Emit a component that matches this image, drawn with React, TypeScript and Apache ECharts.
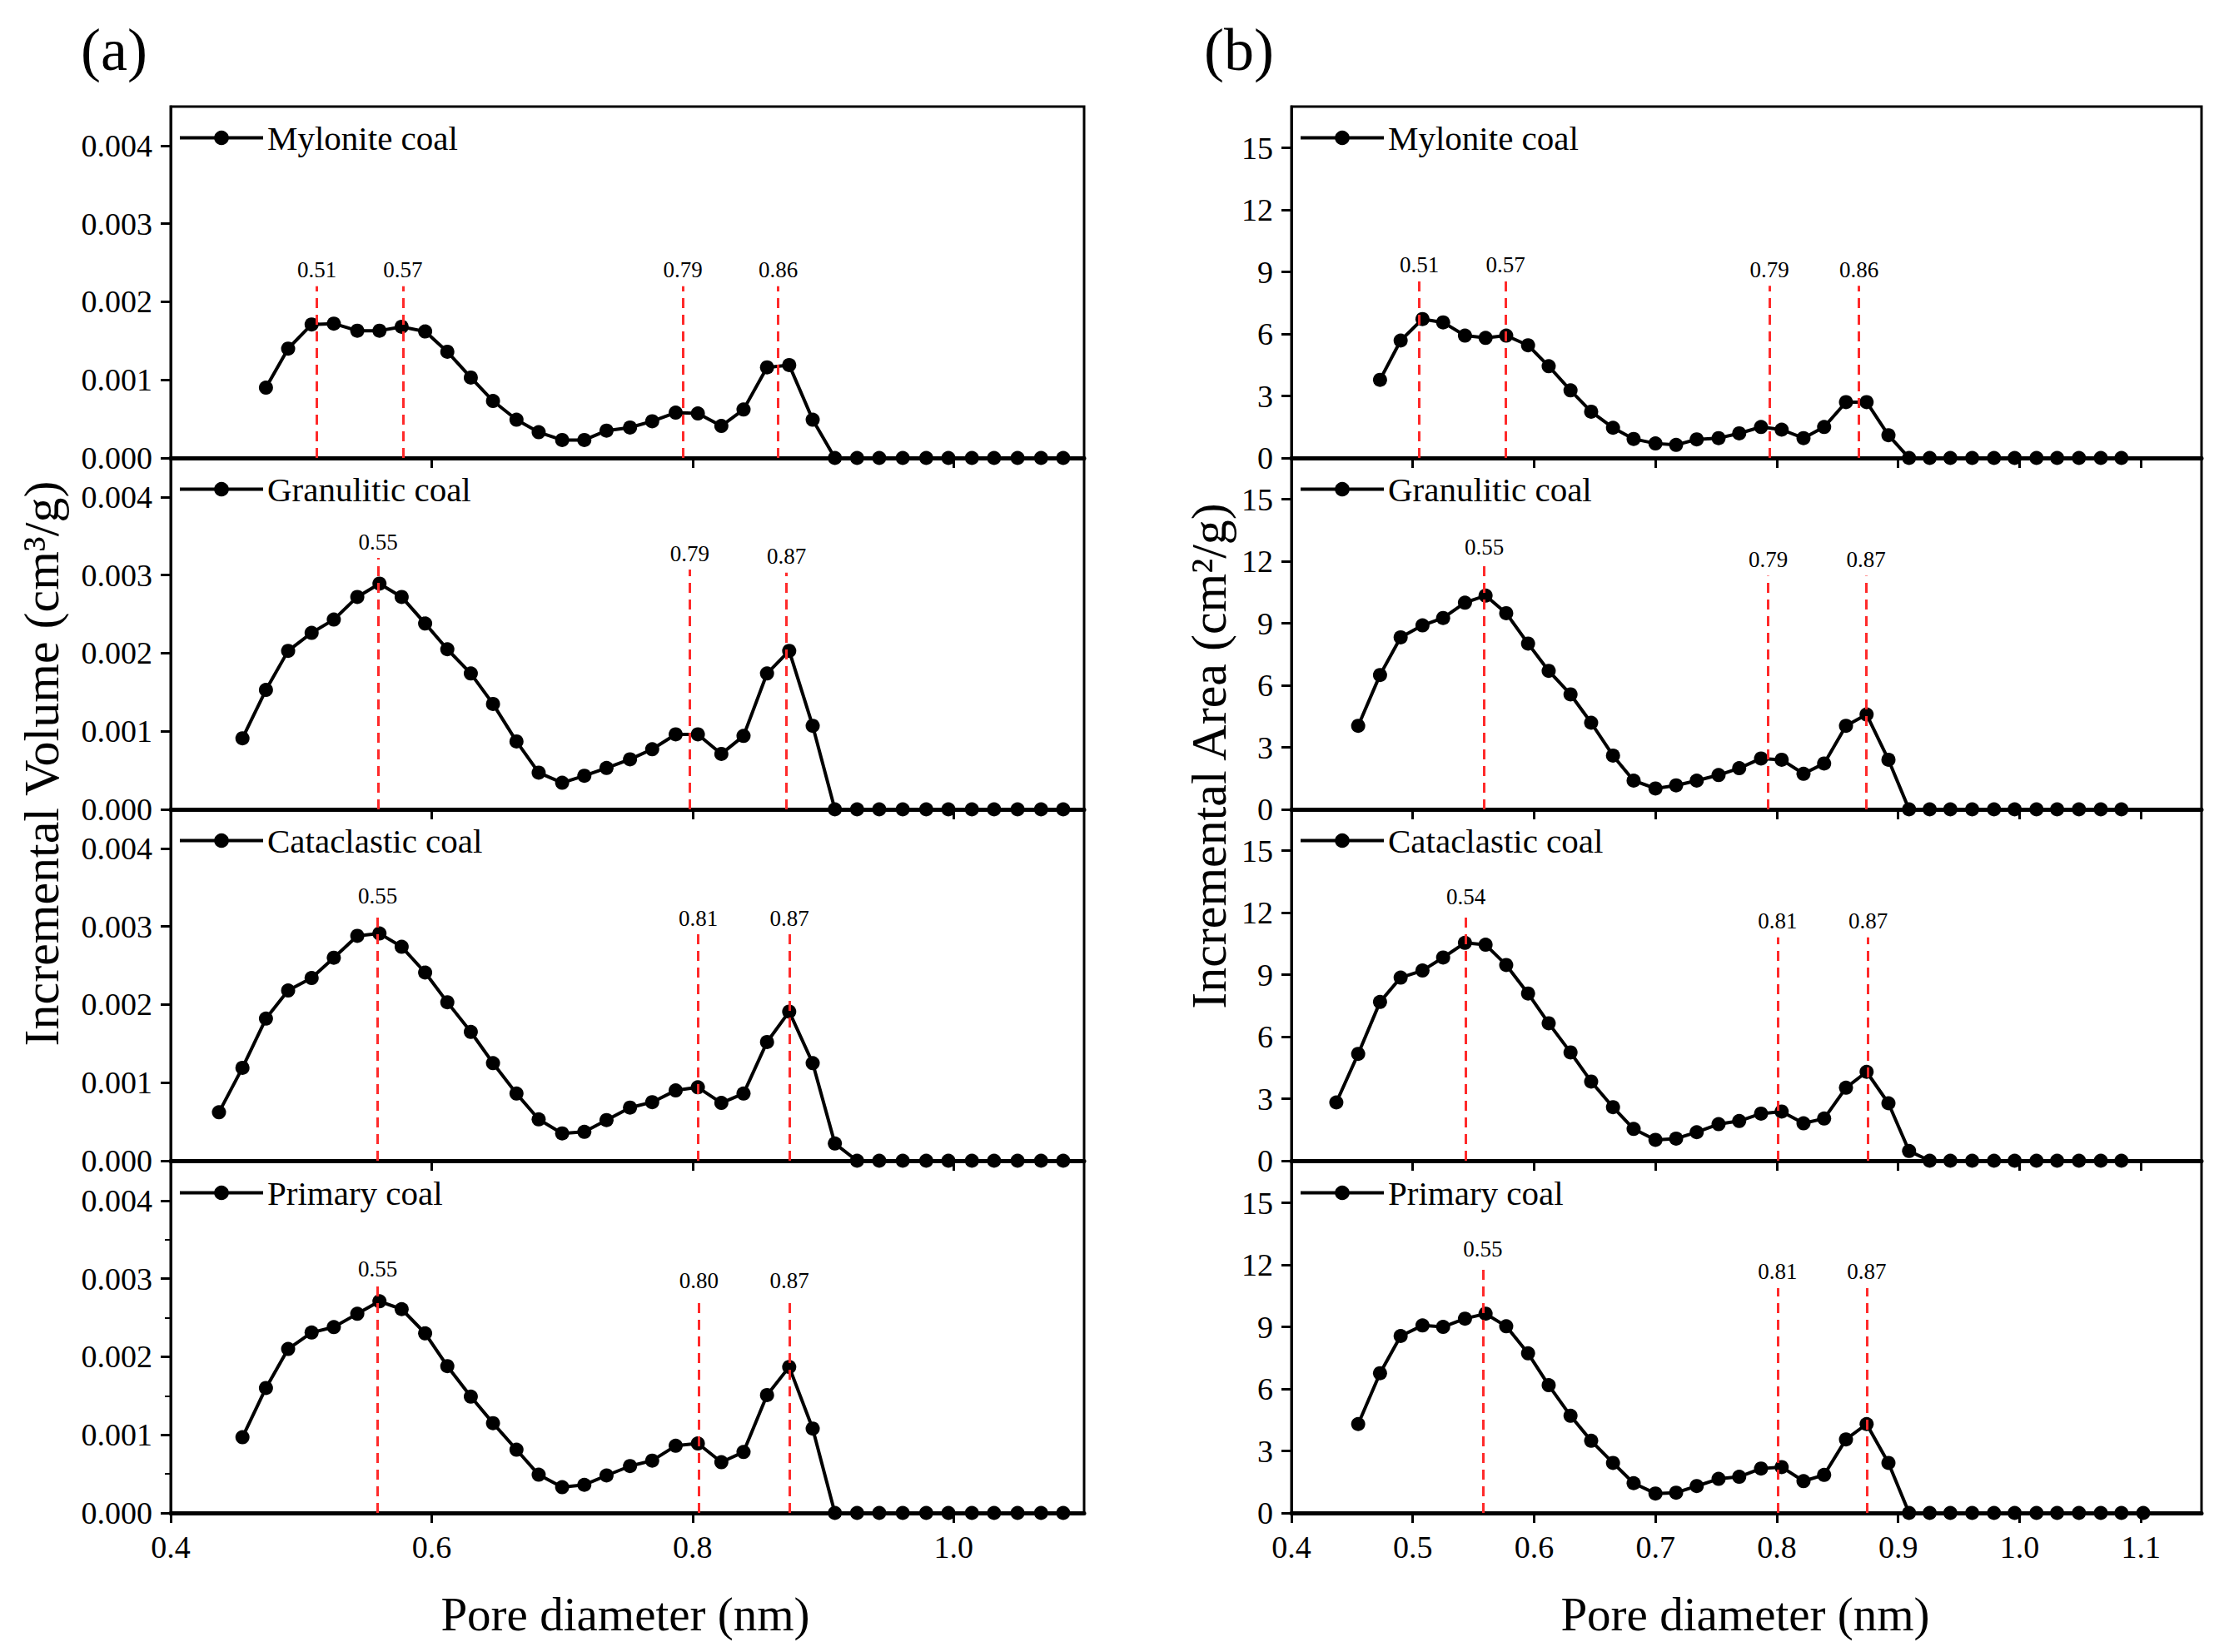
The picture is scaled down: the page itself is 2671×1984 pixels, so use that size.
import { useEffect, useRef } from 'react';
import * as echarts from 'echarts';

// pore diameters (nm) of the DFT bins
const poreDiameter = [
  0.437, 0.455, 0.473, 0.490, 0.508, 0.525, 0.543, 0.560, 0.577, 0.595,
  0.612, 0.630, 0.647, 0.665, 0.682, 0.700, 0.717, 0.734, 0.752, 0.769,
  0.787, 0.804, 0.822, 0.839, 0.857, 0.874, 0.892, 0.909, 0.926, 0.943,
  0.961, 0.979, 0.996, 1.014, 1.031, 1.049, 1.067, 1.084, 1.102,
];

// incremental volume (cm3/g)
const mylVolume = [
  0.00090, 0.00140, 0.00171, 0.00172, 0.00163, 0.00163, 0.00168, 0.00162, 0.00136, 0.00103,
  0.00073, 0.00049, 0.00033, 0.00023, 0.00023, 0.00035, 0.00039, 0.00047, 0.00058, 0.00057,
  0.00041, 0.00062, 0.00116, 0.00119, 0.00049, 0, 0, 0, 0, 0, 0, 0, 0, 0, 0, 0,
];
const graVolume = [
  0.00091, 0.00153, 0.00203, 0.00226, 0.00243, 0.00272, 0.00289, 0.00272, 0.00238, 0.00205,
  0.00174, 0.00135, 0.00087, 0.00047, 0.00034, 0.00043, 0.00053, 0.00064, 0.00077, 0.00096,
  0.00096, 0.00071, 0.00094, 0.00174, 0.00203, 0.00107, 0, 0, 0, 0, 0, 0, 0, 0, 0, 0, 0,
];
const catVolume = [
  0.00062, 0.00119, 0.00182, 0.00218, 0.00234, 0.00260, 0.00288, 0.00291, 0.00274, 0.00241,
  0.00203, 0.00165, 0.00125, 0.00086, 0.00053, 0.00035, 0.00037, 0.00052, 0.00068, 0.00075,
  0.00090, 0.00094, 0.00074, 0.00086, 0.00152, 0.00191, 0.00125, 0.00022, 0, 0, 0, 0, 0, 0, 0, 0, 0, 0,
];
const priVolume = [
  0.00097, 0.00160, 0.00210, 0.00231, 0.00238, 0.00255, 0.00271, 0.00261, 0.00230, 0.00188,
  0.00149, 0.00115, 0.00081, 0.00049, 0.00033, 0.00036, 0.00048, 0.00060, 0.00067, 0.00086,
  0.00089, 0.00065, 0.00078, 0.00151, 0.00187, 0.00108, 0, 0, 0, 0, 0, 0, 0, 0, 0, 0, 0,
];

// incremental area (cm2/g)
const mylArea = [
  3.78, 5.68, 6.72, 6.56, 5.92, 5.81, 5.92, 5.45, 4.44, 3.27, 2.24, 1.46, 0.92, 0.70, 0.63,
  0.90, 0.96, 1.19, 1.50, 1.37, 0.96, 1.50, 2.70, 2.70, 1.10, 0, 0, 0, 0, 0, 0, 0, 0, 0, 0, 0,
];
const graArea = [
  4.04, 6.50, 8.32, 8.90, 9.26, 10.0, 10.34, 9.49, 8.02, 6.70, 5.56, 4.19, 2.60, 1.39, 1.01,
  1.16, 1.39, 1.66, 1.99, 2.46, 2.40, 1.72, 2.22, 4.04, 4.59, 2.40, 0, 0, 0, 0, 0, 0, 0, 0, 0, 0, 0,
];
const catArea = [
  2.82, 5.17, 7.68, 8.86, 9.20, 9.83, 10.54, 10.45, 9.47, 8.09, 6.65, 5.24, 3.83, 2.59, 1.54,
  1.01, 1.07, 1.38, 1.77, 1.92, 2.28, 2.38, 1.81, 2.04, 3.53, 4.30, 2.78, 0.47, 0, 0, 0, 0, 0, 0, 0, 0, 0, 0,
];
const priArea = [
  4.30, 6.76, 8.56, 9.07, 9.00, 9.40, 9.64, 9.03, 7.72, 6.18, 4.70, 3.49, 2.42, 1.44, 0.94,
  0.98, 1.30, 1.65, 1.75, 2.15, 2.22, 1.54, 1.84, 3.56, 4.30, 2.42, 0, 0, 0, 0, 0, 0, 0, 0, 0, 0, 0, 0,
];

// peak marks: label, x position, top of dashed line
const mylVolPeaks = [
  { label: '0.51', x: 0.512, top: 0.0022 },
  { label: '0.57', x: 0.578, top: 0.0022 },
  { label: '0.79', x: 0.7925, top: 0.0022 },
  { label: '0.86', x: 0.8656, top: 0.0022 },
];
const graVolPeaks = [
  { label: '0.55', x: 0.559, top: 0.00322 },
  { label: '0.79', x: 0.7978, top: 0.00307 },
  { label: '0.87', x: 0.872, top: 0.00303 },
];
const catVolPeaks = [
  { label: '0.55', x: 0.5586, top: 0.00318 },
  { label: '0.81', x: 0.8043, top: 0.0029 },
  { label: '0.87', x: 0.8742, top: 0.0029 },
];
const priVolPeaks = [
  { label: '0.55', x: 0.5586, top: 0.00292 },
  { label: '0.80', x: 0.8048, top: 0.00277 },
  { label: '0.87', x: 0.8742, top: 0.00277 },
];
const mylAreaPeaks = [
  { label: '0.51', x: 0.5054, top: 8.57 },
  { label: '0.57', x: 0.5765, top: 8.57 },
  { label: '0.79', x: 0.794, top: 8.33 },
  { label: '0.86', x: 0.8677, top: 8.33 },
];
const graAreaPeaks = [
  { label: '0.55', x: 0.559, top: 11.9 },
  { label: '0.79', x: 0.793, top: 11.3 },
  { label: '0.87', x: 0.8735, top: 11.3 },
];
const catAreaPeaks = [
  { label: '0.54', x: 0.5439, top: 11.98 },
  { label: '0.81', x: 0.8007, top: 10.81 },
  { label: '0.87', x: 0.8752, top: 10.81 },
];
const priAreaPeaks = [
  { label: '0.55', x: 0.5578, top: 12.0 },
  { label: '0.81', x: 0.8007, top: 10.88 },
  { label: '0.87', x: 0.8741, top: 10.88 },
];

const xTicksLeft = [0.4, 0.6, 0.8, 1.0];
const xTicksRight = [0.4, 0.5, 0.6, 0.7, 0.8, 0.9, 1.0, 1.1];
const yTicksLeft = [0, 0.001, 0.002, 0.003, 0.004];
const yTicksRight = [0, 3, 6, 9, 12, 15];

const FONT = 'Liberation Serif';

const colLeft = [205, 1551];
const colWidth = [1097, 1093];
const rowTop = [128, 550, 972, 1395];
const rowHeight = 422;

// first bin index of each sample in poreDiameter
const toPairs = (start: number, values: number[]) =>
  values.map((v, k) => [poreDiameter[start + k], v]);

const panels = [
  { col: 0, row: 0, name: 'Mylonite coal', data: toPairs(2, mylVolume), peaks: mylVolPeaks },
  { col: 0, row: 1, name: 'Granulitic coal', data: toPairs(1, graVolume), peaks: graVolPeaks },
  { col: 0, row: 2, name: 'Cataclastic coal', data: toPairs(0, catVolume), peaks: catVolPeaks },
  { col: 0, row: 3, name: 'Primary coal', data: toPairs(1, priVolume), peaks: priVolPeaks },
  { col: 1, row: 0, name: 'Mylonite coal', data: toPairs(2, mylArea), peaks: mylAreaPeaks },
  { col: 1, row: 1, name: 'Granulitic coal', data: toPairs(1, graArea), peaks: graAreaPeaks },
  { col: 1, row: 2, name: 'Cataclastic coal', data: toPairs(0, catArea), peaks: catAreaPeaks },
  { col: 1, row: 3, name: 'Primary coal', data: toPairs(1, priArea), peaks: priAreaPeaks },
];

const App = () => {
  const chartRef = useRef<HTMLDivElement>(null);

  useEffect(() => {
    if (!chartRef.current) return;
    const chart = echarts.init(chartRef.current, undefined, { renderer: 'svg' });

    const option = {
      animation: false,
      backgroundColor: '#fff',
      textStyle: { fontFamily: FONT },
      grid: panels.map((p) => ({
        left: colLeft[p.col],
        width: colWidth[p.col],
        top: rowTop[p.row],
        height: rowHeight,
        show: true,
        borderColor: '#000',
        borderWidth: 3,
      })),
      xAxis: panels.map((p, i) => ({
        type: 'value',
        gridIndex: i,
        min: 0.4,
        max: p.col ? 1.15 : 1.1,
        interval: p.col ? 0.1 : 0.2,
        axisLine: { show: true, onZero: false, lineStyle: { color: '#000', width: 5 } },
        axisTick: {
          show: true,
          length: 12,
          customValues: p.col ? xTicksRight : xTicksLeft,
          lineStyle: { color: '#000', width: 3 },
        },
        axisLabel: {
          show: p.row === 3,
          customValues: p.col ? xTicksRight : xTicksLeft,
          formatter: (v: number) => v.toFixed(1),
          fontSize: 38,
          fontFamily: FONT,
          color: '#000',
          margin: 22,
        },
        splitLine: { show: false },
      })),
      yAxis: panels.map((p, i) => ({
        type: 'value',
        gridIndex: i,
        min: 0,
        max: p.col ? 17 : 0.0045,
        interval: p.col ? 3 : 0.001,
        axisLine: { show: true, lineStyle: { color: '#000', width: 3 } },
        axisTick: {
          show: true,
          length: 12,
          customValues: p.col ? yTicksRight : yTicksLeft,
          lineStyle: { color: '#000', width: 3 },
        },
        minorTick: {
          show: p.col === 0 && p.row === 3,
          splitNumber: 2,
          length: 7,
          lineStyle: { color: '#000', width: 2 },
        },
        axisLabel: {
          customValues: p.col ? yTicksRight : yTicksLeft,
          formatter: (v: number) => (p.col ? String(v) : v.toFixed(3)),
          fontSize: 38,
          fontFamily: FONT,
          color: '#000',
          margin: 22,
        },
        splitLine: { show: false },
      })),
      legend: panels.map((p) => ({
        data: [p.name],
        left: colLeft[p.col] + 4,
        top: rowTop[p.row] + 12,
        itemWidth: 100,
        itemHeight: 22,
        selectedMode: false,
        lineStyle: { width: 4, color: '#000' },
        itemStyle: { color: '#000' },
        textStyle: { fontSize: 41, fontFamily: FONT, color: '#000' },
      })),
      series: panels.map((p, i) => ({
        type: 'line',
        name: p.name,
        xAxisIndex: i,
        yAxisIndex: i,
        data: p.data,
        symbol: 'circle',
        symbolSize: 17,
        itemStyle: { color: '#000' },
        lineStyle: { color: '#000', width: 4 },
        markLine: {
          silent: true,
          symbol: ['none', 'none'],
          lineStyle: { color: '#ff2a2a', type: [12, 8], width: 3 },
          label: {
            show: true,
            position: 'end',
            distance: 6,
            fontSize: 27,
            fontFamily: FONT,
            color: '#000',
          },
          data: p.peaks.map((k) => [
            { coord: [k.x, 0], name: k.label, label: { formatter: k.label } },
            { coord: [k.x, k.top] },
          ]),
        },
      })),
      graphic: [
        {
          type: 'text',
          x: 137,
          y: 60,
          style: { text: '(a)', font: `72px ${FONT}`, fill: '#000', align: 'center', verticalAlign: 'middle' },
        },
        {
          type: 'text',
          x: 1488,
          y: 60,
          style: { text: '(b)', font: `72px ${FONT}`, fill: '#000', align: 'center', verticalAlign: 'middle' },
        },
        {
          type: 'text',
          x: 50,
          y: 917,
          rotation: Math.PI / 2,
          style: {
            text: 'Incremental Volume (cm³/g)',
            font: `60px ${FONT}`,
            fill: '#000',
            align: 'center',
            verticalAlign: 'middle',
          },
        },
        {
          type: 'text',
          x: 1452,
          y: 908,
          rotation: Math.PI / 2,
          style: {
            text: 'Incremental Area (cm²/g)',
            font: `60px ${FONT}`,
            fill: '#000',
            align: 'center',
            verticalAlign: 'middle',
          },
        },
        {
          type: 'text',
          x: 751,
          y: 1938,
          style: { text: 'Pore diameter (nm)', font: `57px ${FONT}`, fill: '#000', align: 'center', verticalAlign: 'middle' },
        },
        {
          type: 'text',
          x: 2096,
          y: 1938,
          style: { text: 'Pore diameter (nm)', font: `57px ${FONT}`, fill: '#000', align: 'center', verticalAlign: 'middle' },
        },
      ],
    };

    chart.setOption(option);

    const handleResize = () => chart.resize();
    window.addEventListener('resize', handleResize);

    return () => {
      window.removeEventListener('resize', handleResize);
      chart.dispose();
    };
  }, []);

  return (
    <div
      ref={chartRef}
      style={{ position: 'absolute', left: 0, top: 0, width: '2671px', height: '1984px' }}
    />
  );
};

export default App;
